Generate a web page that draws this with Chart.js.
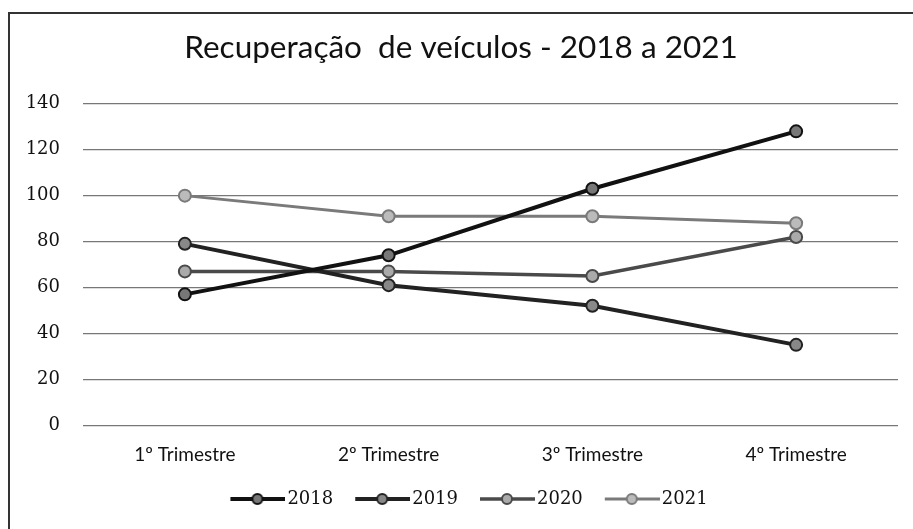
<!DOCTYPE html>
<html>
<head>
<meta charset="utf-8">
<script src="https://cdn.jsdelivr.net/npm/chart.js@4.4.1/dist/chart.umd.min.js"></script>
<style>
  html, body { margin: 0; padding: 0; background: #fff; }
  #wrap { width: 913px; height: 529px; }
</style>
</head>
<body>
<div id="wrap"><canvas id="chart" width="913" height="529"></canvas></div>
<script>
const quarters = ['1º Trimestre', '2º Trimestre', '3º Trimestre', '4º Trimestre']
const years = ['2018', '2019', '2020', '2021']
const values2018 = [57, 74, 103, 128]
const values2019 = [79, 61, 52, 35]
const values2020 = [67, 67, 65, 82]
const values2021 = [100, 91, 91, 88]
const yTicks = [0, 20, 40, 60, 80, 100, 120, 140]

const lineColors = ['#111111', '#222222', '#4a4a4a', '#7a7a7a']
const fillColors = ['#777777', '#888888', '#aaaaaa', '#bbbbbb']
const lineWidths = [4, 4, 3.5, 3]

// line + marker icon for the legend, drawn in the right part of the canvas
function legendIcon(i) {
  const c = document.createElement('canvas')
  c.width = 78
  c.height = 14
  const ctx = c.getContext('2d')
  ctx.strokeStyle = lineColors[i]
  ctx.lineWidth = lineWidths[i]
  ctx.beginPath()
  ctx.moveTo(23, 7)
  ctx.lineTo(78, 7)
  ctx.stroke()
  ctx.beginPath()
  ctx.arc(50, 7, 5, 0, Math.PI * 2)
  ctx.fillStyle = fillColors[i]
  ctx.fill()
  ctx.lineWidth = 2
  ctx.stroke()
  return c
}

const allValues = [values2018, values2019, values2020, values2021]

const frame = {
  id: 'frame',
  beforeDraw(chart) {
    const ctx = chart.ctx
    ctx.save()
    ctx.fillStyle = '#fff'
    ctx.fillRect(0, 0, chart.width, chart.height)
    ctx.strokeStyle = '#333'
    ctx.lineWidth = 2
    ctx.beginPath()
    ctx.moveTo(9, chart.height)
    ctx.lineTo(9, 13)
    ctx.lineTo(chart.width, 13)
    ctx.stroke()
    ctx.restore()
  }
}

new Chart(document.getElementById('chart'), {
  type: 'line',
  data: {
    labels: quarters,
    datasets: years.map((y, i) => ({
      label: y,
      data: allValues[i],
      borderColor: lineColors[i],
      borderWidth: lineWidths[i],
      backgroundColor: fillColors[i],
      pointBackgroundColor: fillColors[i],
      pointBorderColor: lineColors[i],
      pointBorderWidth: 2,
      pointRadius: 6,
      pointStyle: 'circle',
      tension: 0
    }))
  },
  options: {
    responsive: false,
    animation: false,
    layout: { padding: { left: 24, right: 15, top: 10, bottom: 11 } },
    plugins: {
      title: {
        display: true,
        text: 'Recuperação  de veículos - 2018 a 2021',
        color: '#111',
        font: { family: 'Lato', size: 31.5, weight: 'normal' },
        padding: { top: 19, bottom: 37 }
      },
      legend: {
        position: 'bottom',
        labels: {
          usePointStyle: true,
          pointStyleWidth: 64,
          padding: 6,
          color: '#111',
          font: { family: 'DejaVu Serif', size: 18 },
          generateLabels(chart) {
            return chart.data.datasets.map((ds, i) => ({
              text: ds.label,
              pointStyle: legendIcon(i),
              fillStyle: fillColors[i],
              strokeStyle: lineColors[i],
              lineWidth: 0,
              fontColor: '#111',
              datasetIndex: i
            }))
          }
        }
      },
      tooltip: { enabled: false }
    },
    scales: {
      x: {
        offset: true,
        grid: { display: false, drawTicks: false },
        border: { display: false },
        ticks: {
          color: '#111',
          padding: 18,
          maxRotation: 0,
          font: { family: 'Lato', size: 19 }
        }
      },
      y: {
        min: 0,
        max: 140,
        afterFit(scale) { scale.width = 59 },
        afterBuildTicks(scale) { scale.ticks = yTicks.map(v => ({ value: v })) },
        grid: { color: '#777777', lineWidth: 1.2, drawTicks: false },
        border: { display: false },
        ticks: {
          color: '#111',
          padding: 23,
          font: { family: 'DejaVu Serif', size: 18 }
        }
      }
    }
  },
  plugins: [frame]
})
</script>
</body>
</html>
